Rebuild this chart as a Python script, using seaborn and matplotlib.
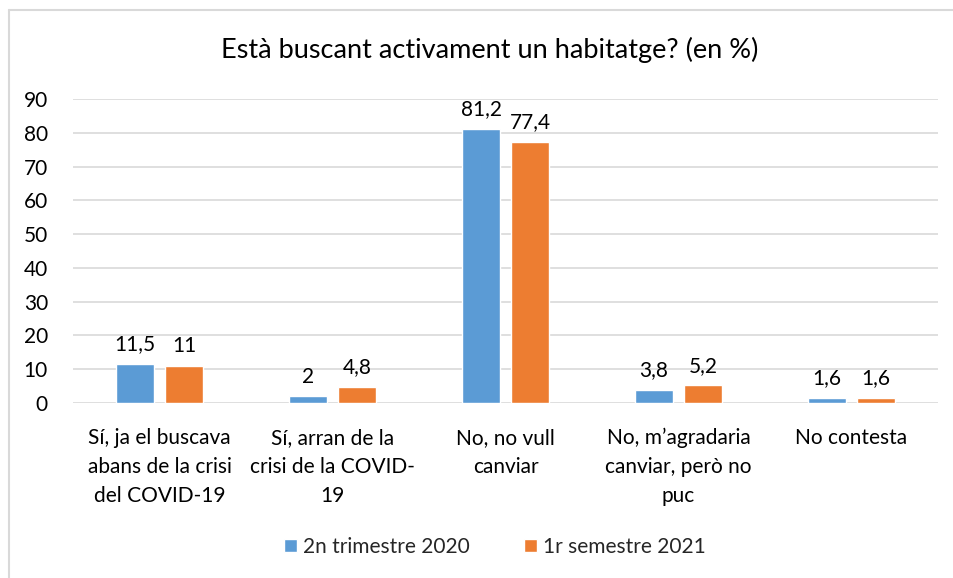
import matplotlib
matplotlib.use("Agg")
import matplotlib.pyplot as plt
import matplotlib.lines as mlines
import pandas as pd
import seaborn as sns

# Dades
categories = [
    "Sí, ja el buscava\nabans de la crisi\ndel COVID-19",
    "Sí, arran de la\ncrisi de la COVID-\n19",
    "No, no vull\ncanviar",
    "No, m’agradaria\ncanviar, però no\npuc",
    "No contesta",
]
series_names = ["2n trimestre 2020", "1r semestre 2021"]
values_2020 = [11.5, 2, 81.2, 3.8, 1.6]
values_2021 = [11, 4.8, 77.4, 5.2, 1.6]
y_ticks = [0, 10, 20, 30, 40, 50, 60, 70, 80, 90]

colors = ["#5B9BD5", "#ED7D31"]
grid_color = "#D9D9D9"
fs = 15

df = pd.DataFrame({
    "categoria": categories * 2,
    "serie": [series_names[0]] * len(categories) + [series_names[1]] * len(categories),
    "valor": values_2020 + values_2021,
})

sns.set_theme(style="white")
plt.rcParams["font.family"] = ["Lato", "DejaVu Sans"]

fig = plt.figure(figsize=(9.54, 5.78), dpi=100)
ax = fig.add_axes([73 / 954, 1 - 403 / 578, (938 - 73) / 954, (403 - 99) / 578])

sns.barplot(data=df, x="categoria", y="valor", hue="serie", order=categories,
            hue_order=series_names, palette=colors, width=0.566, gap=0.223,
            saturation=1, ax=ax, legend=True)

# Etiquetes de dades amb coma decimal
for cont in ax.containers:
    labels = [f"{v:g}".replace(".", ",") for v in cont.datavalues]
    ax.bar_label(cont, labels=labels, padding=7, fontsize=fs, color="#000000")

ax.set_ylim(0, 90)
ax.set_yticks(y_ticks)
ax.yaxis.grid(True, color=grid_color, linewidth=1.2)
ax.set_axisbelow(True)
for s in ax.spines.values():
    s.set_visible(False)
ax.tick_params(axis="y", length=0, pad=18, labelsize=fs, labelcolor="#000000")
ax.tick_params(axis="x", length=0, pad=18, labelsize=fs, labelcolor="#000000")
for lbl in ax.get_xticklabels():
    lbl.set_linespacing(1.55)
    lbl.set_va("top")
ax.set_xlabel("")
ax.set_ylabel("")

fig.text(490 / 954, 1 - 50 / 578, "Està buscant activament un habitatge? (en %)",
         ha="center", va="center", fontsize=19.5, color="#000000")

handles, _ = ax.get_legend_handles_labels()
ax.legend(handles, series_names, loc="center", bbox_to_anchor=(495 / 954, 1 - 547 / 578),
          bbox_transform=fig.transFigure, ncol=2, frameon=False, fontsize=fs,
          handlelength=0.6, handleheight=0.6, handletextpad=0.3, columnspacing=2.6)

# Marc del gràfic
fig.add_artist(mlines.Line2D([9.5 / 954, 9.5 / 954], [0, 1 - 9.5 / 578],
                             transform=fig.transFigure, color=grid_color, linewidth=1.5))
fig.add_artist(mlines.Line2D([9.5 / 954, 1], [1 - 9.5 / 578, 1 - 9.5 / 578],
                             transform=fig.transFigure, color=grid_color, linewidth=1.5))

fig.savefig("out.png", dpi=100)
